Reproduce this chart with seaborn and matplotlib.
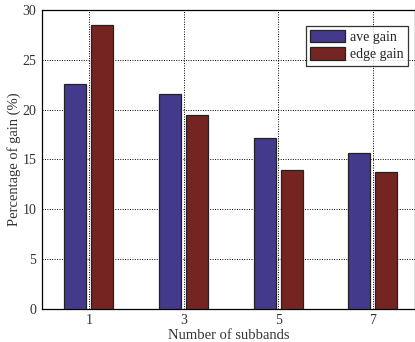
import matplotlib
matplotlib.use("Agg")
import matplotlib.pyplot as plt
import seaborn as sns
import pandas as pd

subbands = ["1", "3", "5", "7"]
ave_gain = [22.6, 21.6, 17.1, 15.6]
edge_gain = [28.5, 19.5, 13.9, 13.7]
series_names = ["ave gain", "edge gain"]
y_ticks = [0, 5, 10, 15, 20, 25, 30]

df = pd.DataFrame({
    "subbands": subbands * 2,
    "gain": ave_gain + edge_gain,
    "series": [series_names[0]] * 4 + [series_names[1]] * 4,
})

sns.set_style("white")
plt.rcParams["font.family"] = ["Liberation Serif", "DejaVu Serif"]

fig = plt.figure(figsize=(4.15, 3.42), dpi=100)
ax = fig.add_axes([0.1005, 0.097, 0.9, 0.874])

sns.barplot(data=df, x="subbands", y="gain", hue="series", order=subbands,
            palette=["#3a2d98", "#821814"], width=0.571, gap=0.185,
            edgecolor="#222222", linewidth=0.9, ax=ax, errorbar=None,
            zorder=3)

ax.set_xlim(-0.5, 3.45)
ax.set_ylim(0, 30)
ax.set_yticks(y_ticks)
ax.set_yticklabels([str(t) for t in y_ticks])
ax.grid(True, color="black", linestyle=(0, (1, 1.5)), linewidth=0.7, zorder=0)
ax.set_axisbelow(True)
for s in ax.spines.values():
    s.set_visible(True)
    s.set_color("black")
    s.set_linewidth(0.9)
ax.tick_params(direction="in", length=3, width=0.7, labelsize=10,
               colors="#333333", pad=4)
ax.set_xlabel("Number of subbands", fontsize=10.5, color="#333333", labelpad=1)
ax.set_ylabel("Percentage of gain (%)", fontsize=10.5, color="#333333", labelpad=1)

leg = ax.legend(loc="upper right", bbox_to_anchor=(0.98, 0.947), fontsize=10,
                frameon=True, fancybox=False, edgecolor="black",
                handlelength=2.5, handleheight=1.0, handletextpad=0.35,
                labelspacing=0.25, borderpad=0.3, borderaxespad=0)
leg.get_frame().set_linewidth(0.9)
leg.set_title(None)

fig.savefig("out.png", dpi=100)
